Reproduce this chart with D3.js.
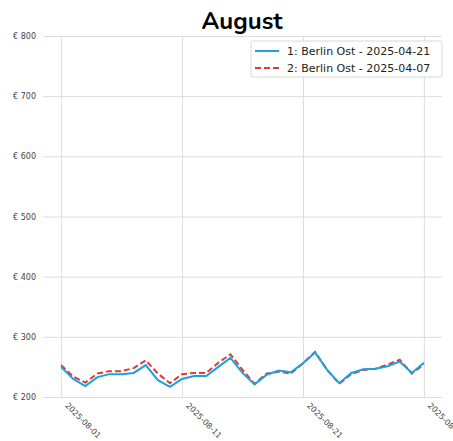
<!DOCTYPE html>
<html>
<head>
<meta charset="utf-8">
<script src="https://cdn.jsdelivr.net/npm/d3@7"></script>
<style>
  body { margin: 0; background: #fff; }
  svg { display: block; }
</style>
</head>
<body>
<div id="chart"></div>
<script>
// data
var days = d3.range(1, 32); // 2025-08-01 .. 2025-08-31
var berlin_0421 = [250, 230, 218, 233, 238, 238, 240, 253, 228, 217, 230, 235, 235, 250, 265, 240,
    221, 237, 244, 241, 256, 274, 245, 223, 240, 246, 247, 251, 259, 240, 257];
var berlin_0407 = [253, 234, 224, 239, 243, 243, 248, 261, 239, 223, 238, 240, 240, 257, 271, 245,
    222, 239, 242, 239, 256, 275, 245, 222, 238, 245, 247, 254, 262, 239, 254];
var seriesNames = ["1: Berlin Ost - 2025-04-21", "2: Berlin Ost - 2025-04-07"];
var yTicks = [200, 300, 400, 500, 600, 700, 800];
var xTickDays = [1, 11, 21, 31];

var W = 453, H = 441;
var margin = { top: 36, right: 11, bottom: 44, left: 43 };

var svg = d3.select("#chart").append("svg")
    .attr("width", W)
    .attr("height", H);

// day of August 2025 (fractions allowed) -> Date
var date = function (d) { return new Date(Date.UTC(2025, 7, 1) + (d - 1) * 864e5); };

var x = d3.scaleUtc()
    .domain([date(-0.5), date(32.5)])
    .range([margin.left, W - margin.right]);
var y = d3.scaleLinear()
    .domain([200, 800])
    .range([H - margin.bottom, margin.top]);

// title
svg.append("text")
    .attr("x", 242)
    .attr("y", 29)
    .attr("text-anchor", "middle")
    .style("font-family", "Nunito, 'Open Sans', sans-serif")
    .style("font-weight", "bold")
    .style("font-size", "24px")
    .text("August");

// horizontal grid + y labels
var yAxis = svg.append("g")
    .attr("transform", "translate(" + margin.left + ",0)")
    .call(d3.axisLeft(y)
        .tickValues(yTicks)
        .tickSize(-(W - margin.left - margin.right))
        .tickPadding(7)
        .tickFormat(function (d) { return "€ " + d; }));
yAxis.select(".domain").remove();
yAxis.selectAll(".tick line").attr("stroke", "#dcdcdc").attr("stroke-width", 1);
yAxis.selectAll(".tick text")
    .style("font-family", "'DejaVu Sans', sans-serif")
    .style("font-size", "8px")
    .attr("fill", "#444");

// vertical grid + x labels
var xAxis = svg.append("g")
    .attr("transform", "translate(0," + (H - margin.bottom) + ")")
    .call(d3.axisBottom(x)
        .tickValues(xTickDays.map(date))
        .tickSize(-(H - margin.top - margin.bottom))
        .tickFormat(d3.utcFormat("%Y-%m-%d")));
xAxis.select(".domain").remove();
xAxis.selectAll(".tick line").attr("stroke", "#dcdcdc").attr("stroke-width", 1);
xAxis.selectAll(".tick text")
    .style("font-family", "'DejaVu Sans', sans-serif")
    .style("font-size", "8px")
    .attr("fill", "#444")
    .attr("text-anchor", "start")
    .attr("dy", null)
    .attr("y", 0)
    .attr("transform", "translate(3,9) rotate(45)");

// lines
var line = function (vals) {
    return d3.line()
        .x(function (d, i) { return x(date(days[i])); })
        .y(function (d) { return y(d); })(vals);
};

svg.append("path")
    .attr("d", line(berlin_0407))
    .attr("fill", "none")
    .attr("stroke", "#dd3a3a")
    .attr("stroke-width", 2)
    .attr("stroke-dasharray", "6,3");

svg.append("path")
    .attr("d", line(berlin_0421))
    .attr("fill", "none")
    .attr("stroke", "#1ba1dd")
    .attr("stroke-width", 2);

// legend
var legend = svg.append("g").attr("transform", "translate(251,41)");
legend.append("rect")
    .attr("width", 191)
    .attr("height", 36)
    .attr("rx", 2)
    .attr("fill", "#fff")
    .attr("fill-opacity", 0.85)
    .attr("stroke", "#d8d8d8");

var colors = ["#1ba1dd", "#dd3a3a"];
seriesNames.forEach(function (name, i) {
    var g = legend.append("g").attr("transform", "translate(0," + (10 + i * 17) + ")");
    g.append("line")
        .attr("x1", 4).attr("x2", 28)
        .attr("stroke", colors[i])
        .attr("stroke-width", 2)
        .attr("stroke-dasharray", i == 1 ? "6,3" : null);
    g.append("text")
        .attr("x", 36)
        .attr("dy", "0.35em")
        .style("font-family", "'DejaVu Sans', sans-serif")
        .style("font-size", "11px")
        .attr("fill", "#222")
        .text(name);
});
</script>
</body>
</html>
